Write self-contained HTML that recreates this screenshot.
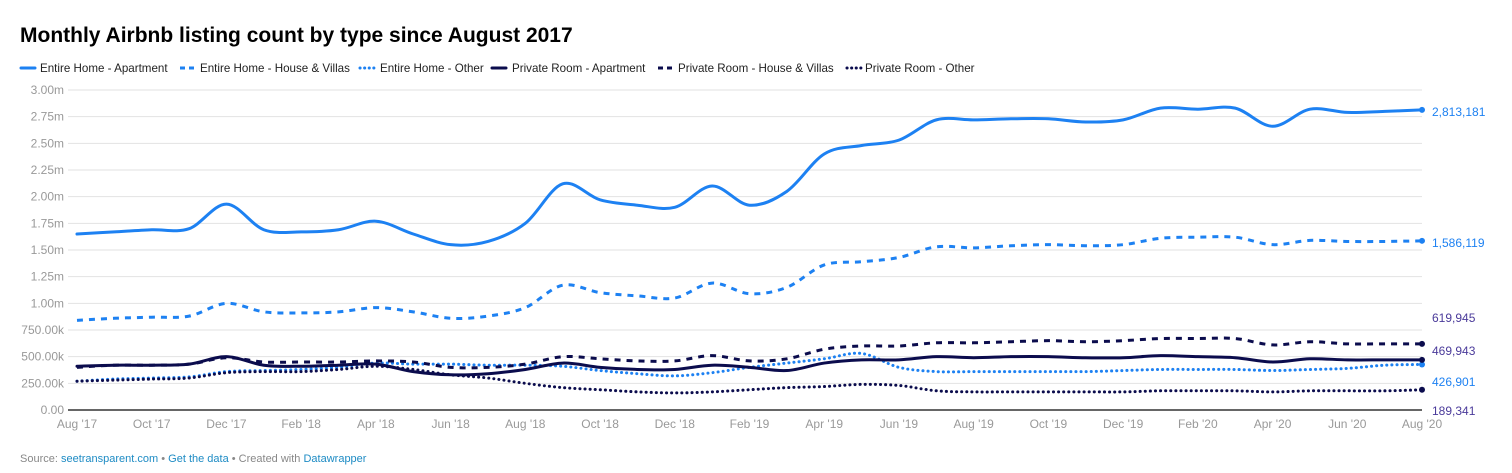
<!DOCTYPE html>
<html><head><meta charset="utf-8"><style>
body{margin:0;background:#fff;font-family:"Liberation Sans",Arial,sans-serif;}
svg text{font-family:"Liberation Sans",Arial,sans-serif;}
</style></head><body>
<svg id="c" width="1512" height="468" xmlns="http://www.w3.org/2000/svg">
<text x="20" y="42" font-size="21" font-weight="bold" fill="#000">Monthly Airbnb listing count by type since August 2017</text>
<g id="legend"></g>
<g id="grid"></g><g id="series"></g><g id="labels"></g>
<text x="20" y="462" font-size="11" fill="#888">Source: <tspan fill="#1d8bc4">seetransparent.com</tspan> • <tspan fill="#1d8bc4">Get the data</tspan> • Created with <tspan fill="#1d8bc4">Datawrapper</tspan></text>
</svg>
<script>
const months = 37;
const xTicks = ["Aug '17","Oct '17","Dec '17","Feb '18","Apr '18","Jun '18","Aug '18","Oct '18","Dec '18","Feb '19","Apr '19","Jun '19","Aug '19","Oct '19","Dec '19","Feb '20","Apr '20","Jun '20","Aug '20"];
const yTicks = [0,250000,500000,750000,1000000,1250000,1500000,1750000,2000000,2250000,2500000,2750000,3000000];
const yTickLabels = ["0.00","250.00k","500.00k","750.00k","1.00m","1.25m","1.50m","1.75m","2.00m","2.25m","2.50m","2.75m","3.00m"];
const seriesNames = ["Entire Home - Apartment","Entire Home - House & Villas","Entire Home - Other","Private Room - Apartment","Private Room - House & Villas","Private Room - Other"];
const eha = [1.65,1.67,1.69,1.70,1.93,1.69,1.67,1.69,1.77,1.65,1.55,1.58,1.75,2.12,1.97,1.92,1.90,2.10,1.92,2.05,2.40,2.48,2.53,2.72,2.72,2.73,2.73,2.70,2.72,2.83,2.82,2.83,2.66,2.82,2.79,2.80,2.813181];
const ehhv = [0.84,0.86,0.87,0.88,1.00,0.92,0.91,0.92,0.96,0.92,0.86,0.88,0.96,1.17,1.10,1.07,1.05,1.19,1.09,1.15,1.36,1.39,1.43,1.53,1.52,1.54,1.55,1.54,1.55,1.61,1.62,1.62,1.55,1.59,1.58,1.58,1.586119];
const eho = [0.27,0.29,0.30,0.31,0.36,0.37,0.38,0.40,0.44,0.43,0.43,0.42,0.42,0.41,0.37,0.34,0.32,0.35,0.40,0.44,0.48,0.53,0.40,0.36,0.36,0.36,0.36,0.36,0.37,0.38,0.38,0.38,0.37,0.38,0.39,0.42,0.426901];
const pra = [0.41,0.42,0.42,0.43,0.50,0.42,0.41,0.42,0.43,0.36,0.33,0.34,0.38,0.44,0.40,0.38,0.38,0.42,0.40,0.37,0.44,0.47,0.47,0.50,0.49,0.50,0.50,0.49,0.49,0.51,0.50,0.49,0.45,0.48,0.47,0.47,0.469943];
const prhv = [0.40,0.42,0.42,0.43,0.49,0.45,0.45,0.45,0.46,0.45,0.40,0.40,0.43,0.50,0.48,0.46,0.46,0.51,0.46,0.48,0.57,0.60,0.60,0.63,0.63,0.64,0.65,0.64,0.65,0.67,0.67,0.67,0.61,0.64,0.62,0.62,0.619945];
const pro = [0.27,0.28,0.29,0.30,0.35,0.36,0.36,0.38,0.41,0.38,0.33,0.30,0.25,0.21,0.19,0.17,0.16,0.17,0.19,0.21,0.22,0.24,0.23,0.18,0.17,0.17,0.17,0.17,0.17,0.18,0.18,0.18,0.17,0.18,0.18,0.18,0.189341];
const endLabels = ["2,813,181","1,586,119","426,901","469,943","619,945","189,341"];

const NS="http://www.w3.org/2000/svg";
const x0=77,x1=1422,yB=410,yT=90;
const X=i=>x0+(x1-x0)*i/(months-1);
const Y=v=>yB-(yB-yT)*v/3000000;
function mk(t,a,p){const e=document.createElementNS(NS,t);for(const k in a)e.setAttribute(k,a[k]);p.appendChild(e);return e;}
const grid=document.getElementById('grid');
yTicks.forEach((v,i)=>{
  const l=mk('line',{x1:68,x2:x1,y1:Y(v),y2:Y(v),stroke:i==0?'#333':'#e2e2e2','stroke-width':i==0?1.5:1},grid);
  
  
  const t=mk('text',{x:64,y:Y(v)+4,'text-anchor':'end','font-size':12,fill:'#999'},grid);
  t.textContent=yTickLabels[i];
  
  
});
xTicks.forEach((s,i)=>{
  const t=mk('text',{x:X(i*2),y:428,'text-anchor':'middle','font-size':12,fill:'#999'},grid);
  t.textContent=s;
  
  
});
const BLUE='#1d81f2',DARK='#0b0c4d';
const styles=[
 {d:eha,c:BLUE,da:'none',lc:'round'},
 {d:ehhv,c:BLUE,da:'6 6',lc:'butt'},
 {d:eho,c:BLUE,da:'0.1 5',lc:'round'},
 {d:pra,c:DARK,da:'none',lc:'round'},
 {d:prhv,c:DARK,da:'6 6',lc:'butt'},
 {d:pro,c:DARK,da:'0.1 5',lc:'round'}];
function pathD(pts){
  let d=`M${pts[0][0]},${pts[0][1]}`;
  for(let i=0;i<pts.length-1;i++){
    const p0=pts[Math.max(0,i-1)],p1=pts[i],p2=pts[i+1],p3=pts[Math.min(pts.length-1,i+2)];
    const c1=[p1[0]+(p2[0]-p0[0])/6,p1[1]+(p2[1]-p0[1])/6];
    const c2=[p2[0]-(p3[0]-p1[0])/6,p2[1]-(p3[1]-p1[1])/6];
    d+=`C${c1[0]},${c1[1]} ${c2[0]},${c2[1]} ${p2[0]},${p2[1]}`;
  }
  return d;
}
const sg=document.getElementById('series');
const keys=['entire-home-apartment','entire-home-house-villas','entire-home-other','private-room-apartment','private-room-house-villas','private-room-other'];
styles.forEach((s,k)=>{
  const pts=s.d.map((v,i)=>[X(i),Y(v*1000000)]);
  const p=mk('path',{d:pathD(pts),fill:'none',stroke:s.c,'stroke-width':3,'stroke-dasharray':s.da,'stroke-linecap':s.lc},sg);
  
  
  const last=pts[pts.length-1];
  const c=mk('circle',{cx:last[0],cy:last[1],r:3,fill:s.c},sg);
  
  
});
const lg=document.getElementById('labels');
const lblY=[112,243,382,351,318,411];
const lblC=[BLUE,BLUE,BLUE,'#4a3a9a','#4a3a9a','#4a3a9a'];
endLabels.forEach((s,i)=>{
  const t=mk('text',{x:1432,y:lblY[i]+4,'font-size':12,fill:lblC[i]},lg);
  t.textContent=s;
  
  
});
const leg=document.getElementById('legend');
const swX=[21,180,360,492,658,847];
const txX=[40,200,380,512,678,865];
seriesNames.forEach((n,i)=>{
  const s=styles[i];
  const l=mk('line',{x1:swX[i],x2:swX[i]+14,y1:68,y2:68,stroke:s.c,'stroke-width':3,'stroke-dasharray':s.da=='none'?'none':(s.da=='6 6'?'5 4':'0.1 4.5'),'stroke-linecap':s.lc},leg);
  
  
  const t=mk('text',{x:txX[i],y:72,'font-size':11.6,fill:'#222'},leg);
  t.textContent=n;
  
  
});
</script>
</body></html>
